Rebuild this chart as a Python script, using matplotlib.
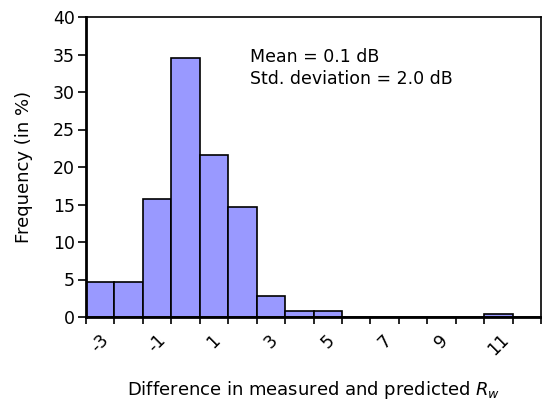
import matplotlib
matplotlib.use("Agg")
import matplotlib.pyplot as plt
import numpy as np

# histogram of measured minus predicted Rw (dB)
categories = [-3, -2, -1, 0, 1, 2, 3, 4, 5, 6, 7, 8, 9, 10, 11, 12]
frequency = [4.7, 4.7, 15.7, 34.6, 21.6, 14.7, 2.8, 0.85, 0.85, 0, 0, 0, 0, 0, 0.4, 0]
tick_labels = ["-3", "-1", "1", "3", "5", "7", "9", "11"]

BAR_COLOR = "#9999FF"

plt.rcParams["font.family"] = ["DejaVu Sans"]
fig = plt.figure(figsize=(5.42, 4.08), dpi=100)
ax = fig.add_axes([86 / 542, 1 - 317 / 408, 455 / 542, 300 / 408])

x = np.arange(len(categories))
ax.bar(x, frequency, width=1.0, color=BAR_COLOR, edgecolor="black", linewidth=1.2)

ax.set_xlim(-0.5, len(categories) - 0.5)
ax.set_ylim(0, 40)
ax.set_yticks(range(0, 41, 5))

# ticks at bin boundaries, labels at every other bin centre
ax.set_xticks(np.arange(-0.5, len(categories)), minor=False)
ax.set_xticklabels([])
ax.set_xticks(x[::2], minor=True)
ax.set_xticklabels(tick_labels, minor=True, rotation=45, ha="center", va="top", fontsize=12.5)
ax.tick_params(axis="x", which="minor", length=0, pad=10)
ax.tick_params(axis="x", which="major", direction="out", length=5, width=1.2)
ax.tick_params(axis="y", direction="out", length=6, width=1.2, labelsize=12.5, pad=2)

for side in ["left", "bottom"]:
    ax.spines[side].set_linewidth(2)
for side in ["top", "right"]:
    ax.spines[side].set_linewidth(1.2)

ax.set_ylabel("Frequency (in %)", fontsize=13, labelpad=14)
ax.set_xlabel("Difference in measured and predicted $R_w$", fontsize=13, labelpad=14)

ax.text(0.36, 0.83, "Mean = 0.1 dB\nStd. deviation = 2.0 dB", transform=ax.transAxes,
        fontsize=12.5, va="center", ha="left", linespacing=1.3)

fig.savefig("out.png", dpi=100)
